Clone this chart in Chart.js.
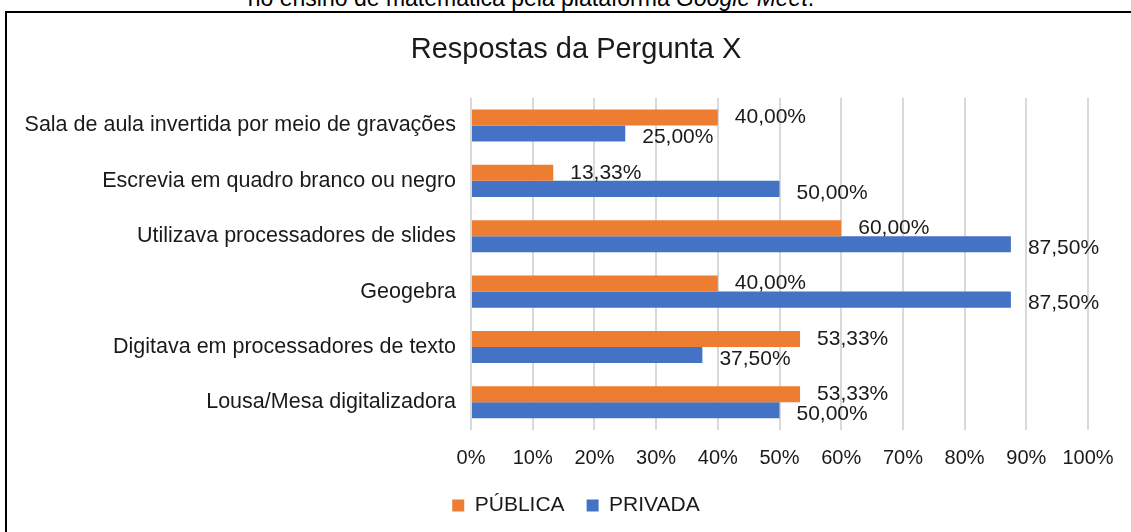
<!DOCTYPE html>
<html>
<head>
<meta charset="utf-8">
<script src="https://cdn.jsdelivr.net/npm/chart.js@4/dist/chart.umd.min.js"></script>
<style>
  body { margin: 0; background: #fff; overflow: hidden; width: 1131px; height: 532px; position: relative; }
  #caption { position: absolute; top: -15px; left: 0; width: 1062px; text-align: center;
    font: 23px "Liberation Sans", Arial, sans-serif; color: #000; }
  #box { position: absolute; left: 5px; top: 11px; width: 1150px; height: 540px; border: 2px solid #000; }
</style>
</head>
<body>
<div id="caption">no ensino de matemática pela plataforma <i>Google Meet</i>.</div>
<div id="box"><canvas id="c" width="1136" height="520"></canvas></div>
<script>
const categories = [
  "Sala de aula invertida por meio de gravações",
  "Escrevia em quadro branco ou negro",
  "Utilizava processadores de slides",
  "Geogebra",
  "Digitava em processadores de texto",
  "Lousa/Mesa digitalizadora"
]
const publica = [40.00, 13.33, 60.00, 40.00, 53.33, 53.33]
const privada = [25.00, 50.00, 87.50, 87.50, 37.50, 50.00]
const xTicks = [0, 10, 20, 30, 40, 50, 60, 70, 80, 90, 100]

const font = "'Liberation Sans', Arial, sans-serif"

// value labels right of each bar, like excel's outside end
const valueLabels = {
  id: 'valueLabels',
  afterDatasetsDraw(chart) {
    const ctx = chart.ctx
    ctx.save()
    ctx.font = "21px " + font
    ctx.fillStyle = "#1a1a1a"
    ctx.textBaseline = "middle"
    chart.data.datasets.forEach((ds, di) => {
      chart.getDatasetMeta(di).data.forEach((bar, i) => {
        let txt = ds.data[i].toFixed(2).replace('.', ',') + '%'
        ctx.fillText(txt, bar.x + 17, bar.y + (di == 0 ? 0 : 4))
      })
    })
    ctx.restore()
  }
}

new Chart(document.getElementById('c'), {
  type: 'bar',
  data: {
    labels: categories,
    datasets: [
      { label: "PÚBLICA", data: publica, backgroundColor: "#ED7D31" },
      { label: "PRIVADA", data: privada, backgroundColor: "#4472C4" }
    ]
  },
  options: {
    indexAxis: 'y',
    responsive: false,
    animation: false,
    devicePixelRatio: 1,
    layout: { padding: { left: 2, right: 0, top: 0, bottom: 7 } },
    datasets: { bar: { categoryPercentage: 0.58, barPercentage: 1.0 } },
    scales: {
      x: {
        min: 0, max: 100,
        afterBuildTicks: axis => { axis.ticks = xTicks.map(v => ({ value: v })) },
        afterFit: axis => { axis.height -= 13 },
        grid: { color: "#d9d9d9", lineWidth: 2, drawTicks: false },
        border: { display: false },
        ticks: { padding: 16, color: "#1a1a1a", font: { size: 20, family: font }, callback: v => v + '%' }
      },
      y: {
        afterFit: axis => { axis.width = 462 },
        grid: { display: false },
        border: { display: false },
        ticks: { padding: 7, color: "#1a1a1a", font: { size: 21.5, family: font } }
      },
      // empty space on the right, keeps title and legend centred on the whole box
      spacer: {
        type: 'linear', position: 'right', display: true,
        afterFit: axis => { axis.width = 55 },
        grid: { display: false }, border: { display: false }, ticks: { display: false }
      }
    },
    plugins: {
      title: { display: true, text: "Respostas da Pergunta X", color: "#1a1a1a",
        font: { size: 29, family: font, weight: 'normal' }, padding: { top: 20, bottom: 30 } },
      legend: { position: 'bottom',
        labels: { color: "#1a1a1a", boxWidth: 12, boxHeight: 12, padding: 22, font: { size: 21, family: font } } },
      tooltip: { enabled: false }
    }
  },
  plugins: [valueLabels]
})
</script>
</body>
</html>
